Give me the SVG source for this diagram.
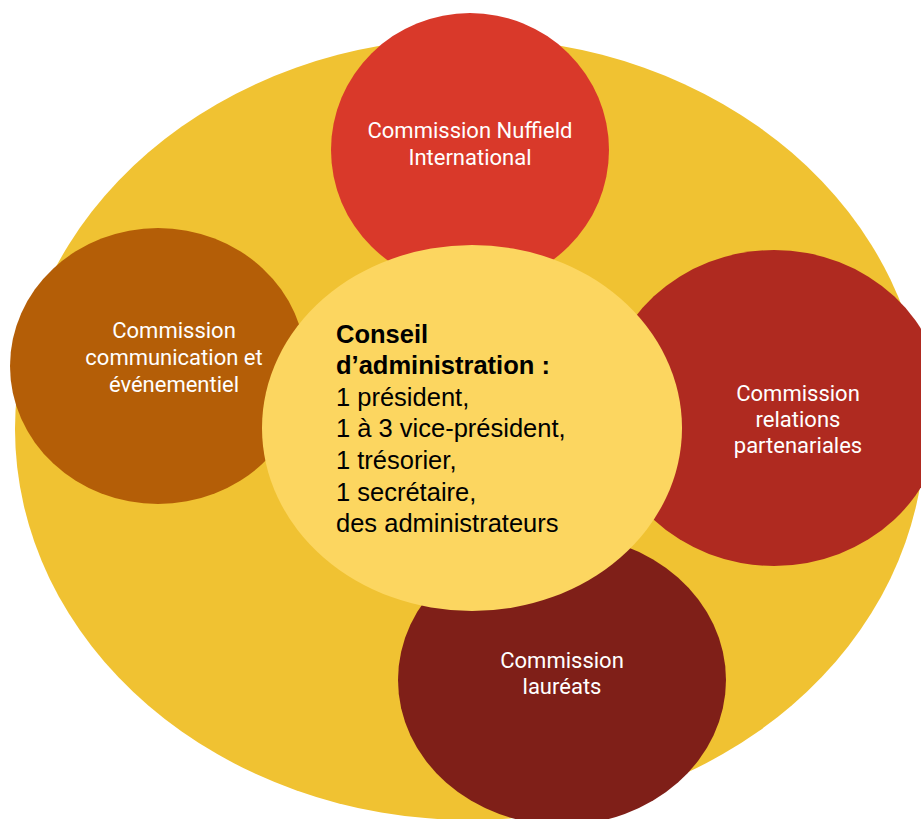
<svg xmlns="http://www.w3.org/2000/svg" width="921" height="819" viewBox="0 0 921 819">
<style>
.lbl{font-family:Roboto,"Liberation Sans",sans-serif;font-size:22px;fill:#ffffff;text-anchor:middle}
.ctr{font-family:"Liberation Sans",Arial,sans-serif;font-size:25.5px;fill:#000000}
.b{font-weight:bold}
</style>
<rect width="921" height="819" fill="#ffffff"/>
<g id="outer"><ellipse cx="470" cy="429" rx="455" ry="391" fill="#F0C232"/></g>
<g id="nuffield">
<ellipse cx="470" cy="150" rx="139" ry="137" fill="#D9392A"/>
<text class="lbl" x="470" y="138">Commission Nuffield</text>
<text class="lbl" x="470" y="165">International</text>
</g>
<g id="communication">
<ellipse cx="158" cy="366" rx="148" ry="138" fill="#B45E07"/>
<text class="lbl" x="174" y="338">Commission</text>
<text class="lbl" x="174" y="365">communication et</text>
<text class="lbl" x="174" y="392">événementiel</text>
</g>
<g id="relations">
<ellipse cx="774" cy="408" rx="170" ry="158" fill="#AF2A20"/>
<text class="lbl" x="798" y="401">Commission</text>
<text class="lbl" x="798" y="427">relations</text>
<text class="lbl" x="798" y="453">partenariales</text>
</g>
<g id="laureats">
<ellipse cx="562" cy="680" rx="164" ry="145" fill="#7F1F18"/>
<text class="lbl" x="562" y="668">Commission</text>
<text class="lbl" x="562" y="694">lauréats</text>
</g>
<g id="conseil">
<ellipse cx="472" cy="428" rx="210" ry="183" fill="#FCD660"/>
<text class="ctr b" x="336" y="343">Conseil</text>
<text class="ctr b" x="336" y="374">d’administration :</text>
<text class="ctr" x="336" y="406">1 président,</text>
<text class="ctr" x="336" y="437">1 à 3 vice-président,</text>
<text class="ctr" x="336" y="469">1 trésorier,</text>
<text class="ctr" x="336" y="501">1 secrétaire,</text>
<text class="ctr" x="336" y="532">des administrateurs</text>
</g>
<g id="connectors"/>
</svg>
